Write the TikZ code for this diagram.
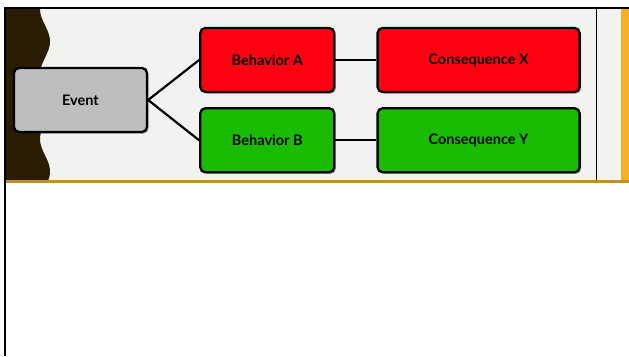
\documentclass[tikz,border=0pt]{standalone}
\usepackage{fontspec}
\setmainfont{Lato}
\usetikzlibrary{positioning, shadows}

\definecolor{panelgrey}{HTML}{F2F2F0}
\definecolor{darkbrown}{HTML}{2B1D04}
\definecolor{goldline}{HTML}{BF9030}
\definecolor{orangebar}{HTML}{F5B125}
\definecolor{eventgrey}{HTML}{BEBEBE}
\definecolor{badred}{HTML}{FE000F}
\definecolor{goodgreen}{HTML}{19BC00}

\begin{document}
\begin{tikzpicture}[x=1pt, y=-1pt]
\tikzset{% boxes and connectors
  block/.style={rectangle, draw, line width=2.3pt, rounded corners=5pt,
    minimum width=134pt, minimum height=64pt, text centered,
    font=\fontsize{14.5}{16}\selectfont\bfseries,
    drop shadow={shadow xshift=1.5pt, shadow yshift=-1.5pt, fill=black, opacity=0.35}},
  wideblock/.style={block, minimum width=202pt},
  line/.style={draw, line width=2.2pt, color=black},
}
\useasboundingbox (0,0) rectangle (629,356);

% backdrop of the slide
\fill[panelgrey] (6,9) rectangle (629,180);
\fill[darkbrown] (6,9) -- plot[domain=9:180, samples=80]
  ({45-5*cos(5.5385*(\x-9))}, {\x}) -- (6,180) -- cycle;
\fill[orangebar] (621,9) rectangle (629,180);
\draw[line width=1pt] (596.5,9) -- (596.5,180);
\draw[goldline, line width=2.5pt] (6,181.5) -- (629,181.5);
\draw[line width=2pt] (4,8) -- (629,8);
\draw[line width=2.5pt] (5,7) -- (5,356);

\node[block, fill=eventgrey, minimum width=133pt] (Event) at (80.5,100) {Event};
\node[block, fill=badred, right=51pt of Event, yshift=40pt]
  (BehaviorA) {Behavior A};
\node[block, fill=goodgreen, below=14pt of BehaviorA]
  (BehaviorB) {Behavior B};
\node[wideblock, fill=badred, right=41pt of BehaviorA]
  (ConsequenceX) {Consequence X};
\node[wideblock, fill=goodgreen, right=41pt of BehaviorB]
  (ConsequenceY) {Consequence Y};

\draw[line] (Event.east) -- (BehaviorA.west);
\draw[line] (Event.east) -- (BehaviorB.west);
\draw[line] (BehaviorA.east) -- (ConsequenceX.west);
\draw[line] (BehaviorB.east) -- (ConsequenceY.west);
\end{tikzpicture}
\end{document}
